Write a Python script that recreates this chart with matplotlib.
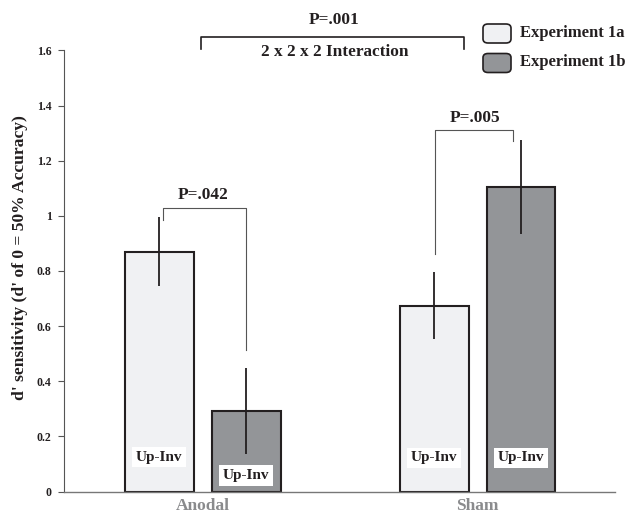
import matplotlib
matplotlib.use("Agg")
import matplotlib.pyplot as plt
from matplotlib.patches import FancyBboxPatch
import numpy as np

plt.rcParams['font.family'] = ['Liberation Serif', 'DejaVu Serif']
plt.rcParams['font.weight'] = 'bold'

categories = ["Anodal", "Sham"]
series_names = ["Experiment 1a", "Experiment 1b"]
exp1a = [0.870, 0.674]
exp1b = [0.293, 1.104]
err1a = [0.126, 0.121]
err1b = [0.156, 0.171]
yticks = [0, 0.2, 0.4, 0.6, 0.8, 1, 1.2, 1.4, 1.6]
ytick_labels = ["0", "0.2", "0.4", "0.6", "0.8", "1", "1.2", "1.4", "1.6"]
bar_label = "Up-Inv"
label_y_1a = [0.125, 0.122]
label_y_1b = [0.057, 0.122]

c1a = "#f0f1f3"
c1b = "#939598"
edge = "#231f20"

fig = plt.figure(figsize=(6.31, 5.15), dpi=100)
ax = fig.add_axes([0.1014, 0.0456, 0.8733, 0.8564])

x = np.arange(len(categories))
w = 0.25
off = 0.158

ax.bar(x - off, exp1a, w, color=c1a, edgecolor=edge, linewidth=1.5, zorder=2)
ax.bar(x + off, exp1b, w, color=c1b, edgecolor=edge, linewidth=1.5, zorder=2)
ax.errorbar(x - off, exp1a, yerr=err1a, fmt='none', ecolor=edge, elinewidth=1.3, capsize=0, zorder=3)
ax.errorbar(x + off, exp1b, yerr=err1b, fmt='none', ecolor=edge, elinewidth=1.3, capsize=0, zorder=3)

for xi, yl in zip(x - off, label_y_1a):
    ax.text(xi, yl, bar_label, ha='center', va='center', fontsize=11, fontweight='bold',
            color='#231f20', zorder=4,
            bbox=dict(facecolor='white', edgecolor='none', boxstyle='square,pad=0.25'))
for xi, yl in zip(x + off, label_y_1b):
    ax.text(xi, yl, bar_label, ha='center', va='center', fontsize=11, fontweight='bold',
            color='#231f20', zorder=4,
            bbox=dict(facecolor='white', edgecolor='none', boxstyle='square,pad=0.25'))

ax.set_xlim(-0.505, 1.5)
ax.set_ylim(0, 1.6)
ax.set_yticks(yticks)
ax.set_yticklabels(ytick_labels, fontsize=8.5, fontweight='bold', color='#231f20')
ax.set_xticks(x)
ax.set_xticklabels(categories, fontsize=12.5, fontweight='bold', color='#8a8b8d')
ax.tick_params(axis='x', length=0, pad=5)
ax.tick_params(axis='y', length=4, width=0.8, color='#555555', pad=5)
for s in ['top', 'right']:
    ax.spines[s].set_visible(False)
ax.spines['left'].set_color('#555555')
ax.spines['bottom'].set_color('#777777')
ax.spines['left'].set_linewidth(0.8)
ax.spines['bottom'].set_linewidth(1.0)
ax.set_ylabel("d' sensitivity (d' of 0 = 50% Accuracy)", fontsize=12.6, fontweight='bold',
              color='#231f20')
ax.yaxis.set_label_coords(-0.066, 0.53)

bc = '#555555'
lw = 0.8
fs = 12.4
# P=.042 bracket
ax.plot([-0.145, -0.145, 0.159, 0.159], [0.985, 1.029, 1.029, 0.514], color=bc, lw=lw, zorder=1)
ax.text(0.0, 1.076, "P=.042", ha='center', va='center', fontsize=fs, fontweight='bold', color='#231f20')
# P=.005 bracket
ax.plot([0.846, 0.846, 1.13, 1.13], [0.862, 1.312, 1.312, 1.27], color=bc, lw=lw, zorder=1)
ax.text(0.99, 1.355, "P=.005", ha='center', va='center', fontsize=fs, fontweight='bold', color='#231f20')
# Top interaction bracket
ax.plot([-0.007, -0.007, 0.951, 0.951], [1.605, 1.649, 1.649, 1.605], color='#231f20', lw=1.2, clip_on=False)
ax.text(0.479, 1.711, "P=.001", ha='center', va='center', fontsize=fs, fontweight='bold',
        color='#231f20', clip_on=False)
ax.text(0.479, 1.595, "2 x 2 x 2 Interaction", ha='center', va='center', fontsize=fs,
        fontweight='bold', color='#231f20', clip_on=False)

# Legend (manual, rounded boxes)
W, H = 631.0, 515.0
for i, (name, col) in enumerate(zip(series_names, [c1a, c1b])):
    top_px = 23 + i * 29.5
    box = FancyBboxPatch((483 / W, 1 - (top_px + 20) / H), 28 / W, 19 / H,
                         boxstyle="round,pad=0,rounding_size=0.008",
                         transform=fig.transFigure, facecolor=col, edgecolor=edge, lw=1.2)
    fig.patches.append(box)
    fig.text(520 / W, 1 - (top_px + 10) / H, name, ha='left', va='center', fontsize=12,
             fontweight='bold', color='#231f20')

fig.savefig("out.png", dpi=100)
